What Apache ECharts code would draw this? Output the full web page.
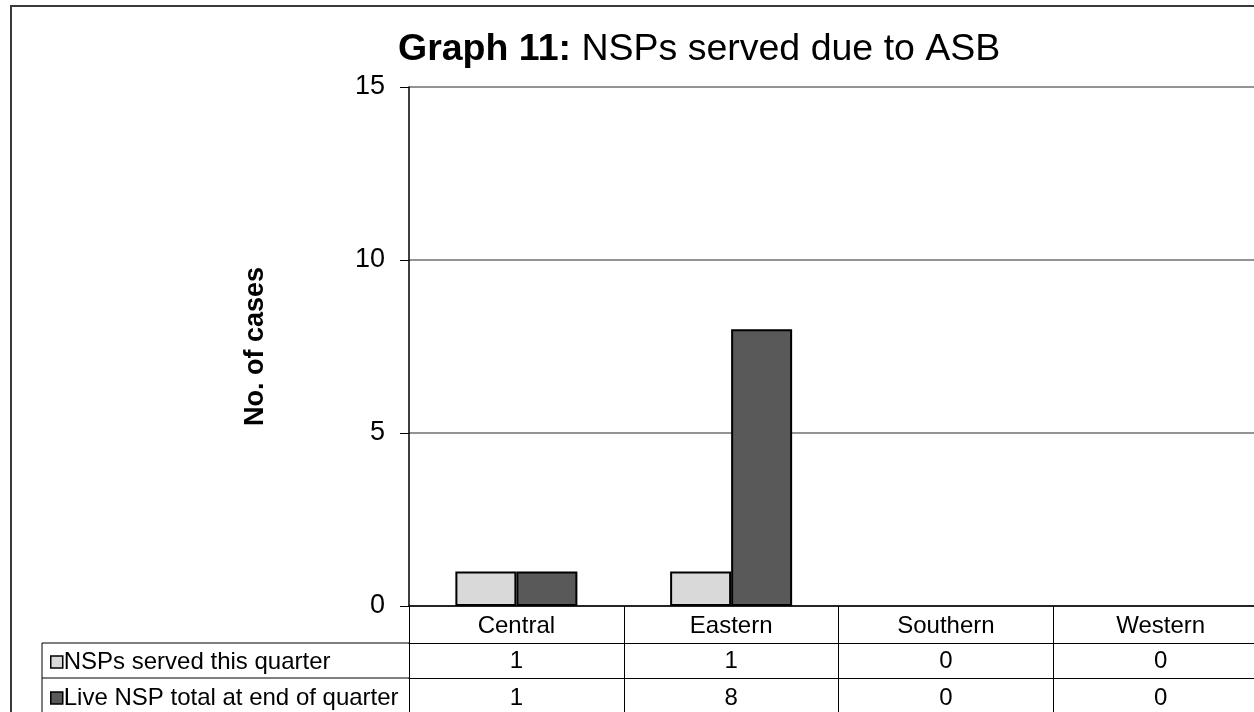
<!DOCTYPE html>
<html>
<head>
<meta charset="utf-8">
<title>Graph 11: NSPs served due to ASB</title>
<script src="https://cdn.jsdelivr.net/npm/echarts@6/dist/echarts.min.js"></script>
<style>
  html, body { margin: 0; padding: 0; overflow: hidden; background: #fff; }
  #chart { width: 1272px; height: 712px; }
</style>
</head>
<body>
<div id="chart"></div>
<script>
// Areas shown along the category axis
const categories = ['Central', 'Eastern', 'Southern', 'Western'];
// Notices served in the quarter, per area
const nspsServed = [1, 1, 0, 0];
// Live notices at the end of the quarter, per area
const liveTotal = [1, 8, 0, 0];
// Value axis ticks
const yTicks = [0, 5, 10, 15];

const seriesNames = ['NSPs served this quarter', 'Live NSP total at end of quarter'];
const seriesColors = ['#d9d9d9', '#595959'];
const FONT = 'Liberation Sans, Arial, sans-serif';

const chart = echarts.init(document.getElementById('chart'));

// Zero-height bars get no outline so nothing sits on the axis line
const barData = values => values.map(v => (v === 0 ? { value: v, itemStyle: { borderWidth: 0 } } : v));

const tableRowAxis = (values, offset, margin) => ({
  type: 'category',
  gridIndex: 0,
  position: 'bottom',
  offset: offset,
  data: categories,
  axisLine: { show: true, lineStyle: { color: '#000', width: 1 } },
  axisTick: { show: false },
  splitLine: { show: false },
  axisLabel: {
    interval: 0,
    margin: margin,
    color: '#000',
    fontFamily: FONT,
    fontSize: 24,
    formatter: (v, i) => String(values[i])
  }
});

chart.setOption({
  animation: false,
  title: {
    left: 393,
    top: 26,
    text: '{b|Graph 11:}{n| NSPs served due to ASB}',
    textStyle: {
      rich: {
        b: { fontFamily: FONT, fontSize: 37.5, fontWeight: 'bold', color: '#000' },
        n: { fontFamily: FONT, fontSize: 37.5, fontWeight: 'normal', color: '#000' }
      }
    }
  },
  legend: {
    orient: 'vertical',
    left: 50,
    top: 650,
    padding: 0,
    itemWidth: 12,
    itemHeight: 12,
    itemGap: 12,
    icon: 'rect',
    selectedMode: false,
    itemStyle: { borderColor: '#000', borderWidth: 1.5 },
    textStyle: { fontFamily: FONT, fontSize: 24, lineHeight: 24, color: '#000', padding: [0, 0, 0, -4] },
    data: seriesNames
  },
  grid: { left: 409, top: 87, width: 859, height: 519, containLabel: false },
  xAxis: [
    {
      type: 'category',
      data: categories,
      position: 'bottom',
      axisLine: { show: true, lineStyle: { color: '#000', width: 1.5 } },
      axisTick: { show: true, length: 112, lineStyle: { color: '#000', width: 1 } },
      splitLine: { show: false },
      axisLabel: { interval: 0, margin: 8, color: '#000', fontFamily: FONT, fontSize: 24 }
    },
    tableRowAxis(nspsServed, 37, 6),
    tableRowAxis(liveTotal, 72, 8)
  ],
  yAxis: {
    type: 'value',
    min: yTicks[0],
    max: yTicks[yTicks.length - 1],
    interval: 5,
    name: 'No. of cases',
    nameLocation: 'middle',
    nameRotate: 90,
    nameGap: 140,
    nameTextStyle: { fontFamily: FONT, fontSize: 27, fontWeight: 'bold', color: '#000' },
    axisLine: { show: true, lineStyle: { color: '#000', width: 1.5 } },
    axisTick: { show: true, length: 9, lineStyle: { color: '#000', width: 1 } },
    axisLabel: { margin: 24, color: '#000', fontFamily: FONT, fontSize: 27 },
    splitLine: { show: true, lineStyle: { color: '#707070', width: 1.5 } }
  },
  series: [
    {
      name: seriesNames[0],
      type: 'bar',
      xAxisIndex: 0,
      data: barData(nspsServed),
      barWidth: 61,
      barGap: '0%',
      itemStyle: { color: seriesColors[0], borderColor: '#000', borderWidth: 2 }
    },
    {
      name: seriesNames[1],
      type: 'bar',
      xAxisIndex: 0,
      data: barData(liveTotal),
      barWidth: 61,
      barGap: '0%',
      itemStyle: { color: seriesColors[1], borderColor: '#000', borderWidth: 2 }
    }
  ],
  graphic: [
    // outer chart border
    { type: 'rect', silent: true, shape: { x: 11, y: 6, width: 1400, height: 900 },
      style: { fill: 'none', stroke: '#3a3a3a', lineWidth: 2 } },
    // data table: legend column rules
    { type: 'line', silent: true, shape: { x1: 42, y1: 643, x2: 409, y2: 643 },
      style: { stroke: '#000', lineWidth: 1 } },
    { type: 'line', silent: true, shape: { x1: 42, y1: 678, x2: 409, y2: 678 },
      style: { stroke: '#000', lineWidth: 1 } },
    { type: 'line', silent: true, shape: { x1: 42, y1: 643, x2: 42, y2: 720 },
      style: { stroke: '#000', lineWidth: 1 } }
  ]
});
</script>
</body>
</html>
